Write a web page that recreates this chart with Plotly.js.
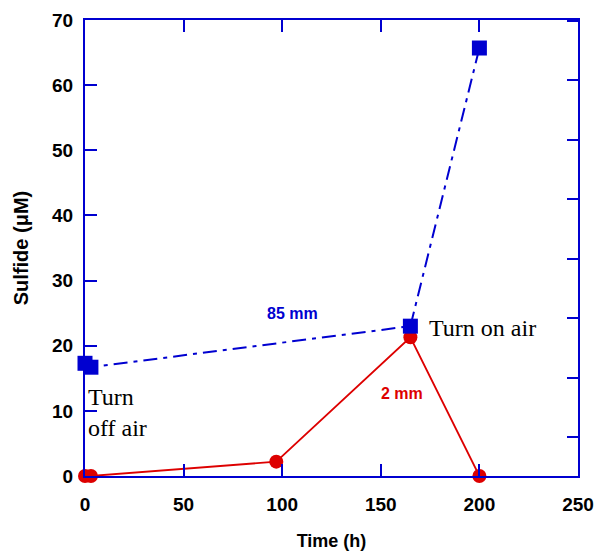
<!DOCTYPE html>
<html>
<head>
<meta charset="utf-8">
<script src="https://cdn.plot.ly/plotly-3.0.1.min.js"></script>
<style>html,body{margin:0;padding:0;background:#fff;}#chart{width:601px;height:554px;}</style>
</head>
<body>
<div id="chart"></div>
<script>
// Data
const timeMm2 = [0, 3, 97, 165, 200];
const sulfideMm2 = [0, 0, 2.2, 21.3, 0];
const timeMm85 = [0, 3, 165, 200];
const sulfideMm85 = [17.3, 16.7, 23.0, 65.7];
const xTicks = [0, 50, 100, 150, 200, 250];
const yTicks = [0, 10, 20, 30, 40, 50, 60, 70];

const blue = '#0000d0';
const red = '#dd0000';

const traces = [
  {x: [], y: [], yaxis: 'y2', type: 'scatter', showlegend: false, hoverinfo: 'skip'},
  {x: timeMm2, y: sulfideMm2, type: 'scatter', mode: 'lines+markers', name: '2 mm', cliponaxis: false,
   line: {color: red, width: 1.8}, marker: {symbol: 'circle', size: 14, color: red}},
  {x: timeMm85, y: sulfideMm85, type: 'scatter', mode: 'lines+markers', name: '85 mm', cliponaxis: false,
   line: {color: blue, width: 2, dash: '14px,6px,4px,6px'}, marker: {symbol: 'square', size: 15, color: blue}}
];

const tickFont = {size: 19, family: 'Liberation Sans, Arial', weight: 'bold', color: '#000'};

const layout = {
  width: 601, height: 554,
  margin: {l: 85, r: 23, t: 20, b: 78},
  paper_bgcolor: '#fff', plot_bgcolor: '#fff',
  showlegend: false,
  font: {family: 'Liberation Sans, Arial, sans-serif', color: '#000'},
  xaxis: {
    range: [0, 250], tickvals: xTicks, ticktext: xTicks.map(String),
    showgrid: false, zeroline: false, showline: true, linecolor: blue, linewidth: 2,
    mirror: 'ticks', ticks: 'inside', ticklen: 12, tickwidth: 2, tickcolor: blue,
    tickfont: tickFont, ticklabelstandoff: 10,
    title: {text: '<b>Time (h)</b>', font: {size: 18}, standoff: 21}
  },
  yaxis: {
    range: [0, 70], tickvals: yTicks, ticktext: yTicks.map(String),
    showgrid: false, zeroline: false, showline: true, linecolor: blue, linewidth: 2,
    mirror: true, ticks: 'inside', ticklen: 12, tickwidth: 2, tickcolor: blue,
    tickfont: tickFont, ticklabelstandoff: 6,
    title: {text: '<b>Sulfide (μM)</b>', font: {size: 20}, standoff: 18}
  },
  yaxis2: {
    overlaying: 'y', side: 'right', range: [0, 70], tick0: 6.0, dtick: 9.12,
    showticklabels: false, showgrid: false, zeroline: false, showline: false,
    ticks: 'inside', ticklen: 11, tickwidth: 2, tickcolor: blue
  },
  annotations: [
    {x: 105, y: 25.0, xref: 'x', yref: 'y', text: '<b>85 mm</b>', showarrow: false,
     font: {size: 16, color: blue, family: 'Liberation Sans, Arial'}},
    {x: 160.7, y: 12.7, xref: 'x', yref: 'y', text: '<b>2 mm</b>', showarrow: false,
     font: {size: 16, color: red, family: 'Liberation Sans, Arial'}},
    {x: 173.2, y: 22.7, xref: 'x', yref: 'y', xanchor: 'left', text: 'Turn on air', showarrow: false,
     font: {size: 24, color: '#000', family: 'Liberation Serif, Times New Roman, serif'}},
    {x: 0.3, y: 9.7, xref: 'x', yref: 'y', xanchor: 'left', align: 'left', text: 'Turn<br>off air', showarrow: false,
     font: {size: 24, color: '#000', family: 'Liberation Serif, Times New Roman, serif'}}
  ]
};

Plotly.newPlot('chart', traces, layout, {staticPlot: true, displayModeBar: false});
</script>
</body>
</html>
